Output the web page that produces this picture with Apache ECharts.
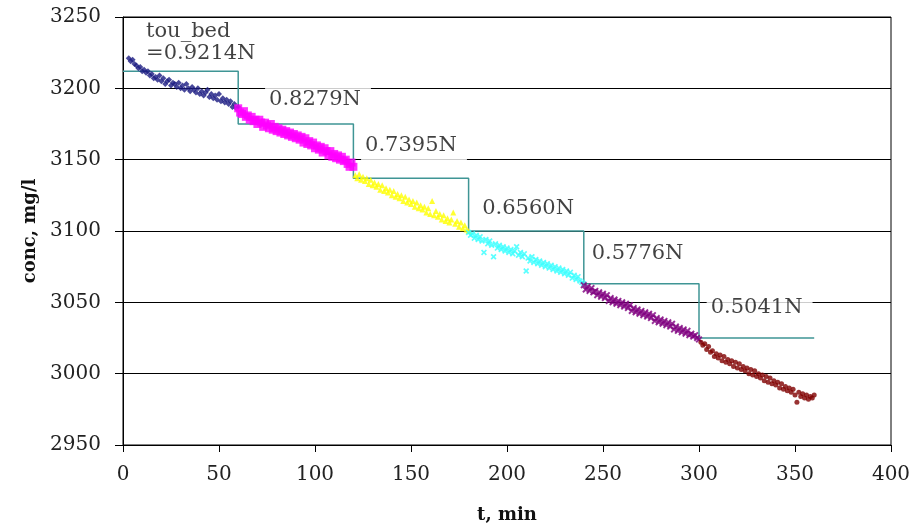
<!DOCTYPE html>
<html>
<head>
<meta charset="utf-8">
<script src="https://cdn.jsdelivr.net/npm/echarts@6/dist/echarts.min.js"></script>
<style>html,body{margin:0;padding:0;background:#fff;}#c{width:914px;height:529px;}</style>
</head>
<body>
<div id="c"></div>
<script>
// ---- data ----
var xTicksMin = 0, xTicksMax = 400, xTickStep = 50;
var yTicksMin = 2950, yTicksMax = 3250, yTickStep = 50;

var seg1 = [[3,3221],[4,3219],[5,3220],[6,3217],[7,3216],[8,3214],[9,3215],[10,3212],[11,3213],[12,3211],[13,3212],[14,3209],[15,3210],[16,3207],[17,3208],[18,3206],[19,3209],[20,3205],[21,3207],[22,3203],[23,3205],[24,3206],[25,3202],[26,3204],[27,3203],[28,3201],[29,3204],[30,3200],[31,3202],[32,3199],[33,3203],[34,3200],[35,3198],[36,3201],[37,3199],[38,3197],[39,3200],[40,3196],[41,3198],[42,3195],[43,3197],[44,3199],[45,3194],[46,3196],[47,3193],[48,3195],[49,3192],[50,3196],[51,3191],[52,3193],[53,3190],[54,3192],[55,3189],[56,3191],[57,3187],[58,3189],[59,3186],[60,3187]];
var seg2 = [[60,3186],[61,3183],[62,3182],[63,3184],[64,3180],[65,3181],[66,3178],[67,3180],[68,3177],[69,3178],[70,3175],[71,3178],[72,3176],[73,3173],[74,3176],[75,3174],[76,3172],[77,3175],[78,3171],[79,3173],[80,3170],[81,3172],[82,3169],[83,3171],[84,3168],[85,3170],[86,3167],[87,3169],[88,3166],[89,3168],[90,3165],[91,3167],[92,3164],[93,3166],[94,3162],[95,3165],[96,3161],[97,3163],[98,3160],[99,3162],[100,3158],[101,3160],[102,3157],[103,3159],[104,3155],[105,3158],[106,3156],[107,3153],[108,3156],[109,3152],[110,3154],[111,3151],[112,3153],[113,3150],[114,3152],[115,3149],[116,3150],[117,3147],[118,3145],[119,3148],[120,3145]];
var seg3 = [[121,3139],[122,3137],[123,3140],[124,3136],[125,3138],[126,3135],[127,3137],[128,3133],[129,3136],[130,3132],[131,3134],[132,3131],[133,3133],[134,3129],[135,3132],[136,3128],[137,3130],[138,3127],[139,3129],[140,3125],[141,3128],[142,3124],[143,3126],[144,3123],[145,3125],[146,3121],[147,3124],[148,3120],[149,3122],[150,3119],[151,3121],[152,3117],[153,3120],[154,3116],[155,3118],[156,3115],[157,3117],[158,3113],[159,3116],[160,3112],[161,3121],[162,3111],[163,3114],[164,3110],[165,3112],[166,3108],[167,3111],[168,3107],[169,3109],[170,3106],[171,3108],[172,3113],[173,3105],[174,3107],[175,3103],[176,3106],[177,3102],[178,3104],[179,3101],[180,3100]];
var seg4 = [[180,3099],[181,3097],[182,3098],[183,3095],[184,3097],[185,3094],[186,3096],[187,3093],[188,3085],[189,3094],[190,3091],[191,3093],[192,3090],[193,3082],[194,3091],[195,3088],[196,3090],[197,3087],[198,3089],[199,3086],[200,3088],[201,3085],[202,3087],[203,3084],[204,3086],[205,3089],[206,3083],[207,3085],[208,3082],[209,3084],[210,3072],[211,3081],[212,3079],[213,3082],[214,3078],[215,3080],[216,3077],[217,3079],[218,3076],[219,3078],[220,3075],[221,3077],[222,3074],[223,3076],[224,3073],[225,3075],[226,3072],[227,3074],[228,3071],[229,3073],[230,3070],[231,3072],[232,3069],[233,3071],[234,3067],[235,3069],[236,3066],[237,3068],[238,3065],[239,3064],[240,3063]];
var seg5 = [[240,3062],[241,3059],[242,3061],[243,3058],[244,3060],[245,3057],[246,3058],[247,3055],[248,3057],[249,3054],[250,3056],[251,3053],[252,3055],[253,3051],[254,3053],[255,3050],[256,3052],[257,3049],[258,3051],[259,3048],[260,3050],[261,3047],[262,3049],[263,3046],[264,3048],[265,3044],[266,3046],[267,3043],[268,3045],[269,3042],[270,3044],[271,3041],[272,3043],[273,3040],[274,3042],[275,3039],[276,3041],[277,3037],[278,3039],[279,3036],[280,3038],[281,3035],[282,3037],[283,3034],[284,3036],[285,3033],[286,3035],[287,3031],[288,3033],[289,3030],[290,3032],[291,3029],[292,3031],[293,3028],[294,3030],[295,3027],[296,3028],[297,3026],[298,3027],[299,3025],[300,3024]];
var seg6 = [[301,3022],[302,3020],[303,3021],[304,3017],[305,3019],[306,3015],[307,3016],[308,3012],[309,3014],[310,3011],[311,3013],[312,3009],[313,3012],[314,3008],[315,3010],[316,3007],[317,3009],[318,3005],[319,3008],[320,3004],[321,3007],[322,3003],[323,3005],[324,3002],[325,3004],[326,3000],[327,3003],[328,2999],[329,3002],[330,2998],[331,3000],[332,2997],[333,2999],[334,2995],[335,2998],[336,2994],[337,2997],[338,2993],[339,2995],[340,2992],[341,2994],[342,2990],[343,2993],[344,2989],[345,2991],[346,2988],[347,2990],[348,2987],[349,2989],[350,2985],[351,2980],[352,2987],[353,2984],[354,2986],[355,2983],[356,2985],[357,2982],[358,2984],[359,2983],[360,2985]];

// step line of bed shear stress levels
var stepX = [0,60,60,120,120,180,180,240,240,300,300,360];
var stepY = [3212,3212,3175,3175,3137,3137,3100,3100,3063,3063,3025,3025];

// annotation labels
var labelTexts = ['tou_bed\n=0.9214N','0.8279N','0.7395N','0.6560N','0.5776N','0.5041N'];
var labelX = [12,74,124,185,242,304];
var labelY = [3232,3192,3160,3116,3084,3046];

var xName = 't, min';
var yName = 'conc, mg/l';

// ---- chart ----
var chart = echarts.init(document.getElementById('c'), null, {renderer:'canvas'});
var serif = 'DejaVu Serif';
var xMark = 'path://M0 2L2 0L5 3L8 0L10 2L7 5L10 8L8 10L5 7L2 10L0 8L3 5Z';

function sc(data, color, symbol, size){
  return {type:'scatter', data:data, symbol:symbol, symbolSize:size,
    itemStyle:{color:color}, silent:true, z:3};
}
var stepData = stepX.map(function(x,i){return [x, stepY[i]];});
var labelData = labelX.map(function(x,i){
  var d = {value:[x,labelY[i]], name:labelTexts[i]};
  if (i === 0) d.label = {backgroundColor:'transparent', padding:[0,0,0,0]};
  return d;
});

chart.setOption({
  animation:false,
  backgroundColor:'#fff',
  grid:{left:123, right:23, top:17, bottom:83, show:true, borderColor:'#000', borderWidth:1},
  xAxis:{type:'value', min:xTicksMin, max:xTicksMax, interval:xTickStep,
    name:xName, nameLocation:'middle', nameGap:61,
    nameTextStyle:{fontFamily:serif, fontWeight:'bold', fontSize:18, color:'#111'},
    axisLine:{lineStyle:{color:'#000', width:1}},
    axisTick:{show:true, length:7, lineStyle:{color:'#000'}},
    axisLabel:{fontFamily:serif, fontSize:20, color:'#222', margin:20},
    splitLine:{show:false}},
  yAxis:{type:'value', min:yTicksMin, max:yTicksMax, interval:yTickStep,
    name:yName, nameLocation:'middle', nameGap:68, nameRotate:90,
    nameTextStyle:{fontFamily:serif, fontWeight:'bold', fontSize:18, color:'#111'},
    axisLine:{show:true, lineStyle:{color:'#000', width:1}},
    axisTick:{show:true, length:8, lineStyle:{color:'#000'}},
    axisLabel:{fontFamily:serif, fontSize:20, color:'#222', margin:22,
      formatter:function(v){return String(v);}},
    splitLine:{show:true, lineStyle:{color:'#000', width:1}}},
  series:[
    {type:'line', data:stepData, showSymbol:false, symbol:'none', silent:true,
      lineStyle:{color:'#3f9595', width:1.5}, z:2},
    sc(seg1,'#1c1c82','diamond',6),
    sc(seg2,'#ff00ff','rect',8),
    sc(seg3,'#ffff00','triangle',6),
    sc(seg4,'#33ffff',xMark,6),
    sc(seg5,'#800080',xMark,7),
    sc(seg6,'#800000','circle',5),
    {type:'scatter', data:labelData, symbolSize:0, silent:true, z:10,
      label:{show:true, position:'right', distance:0,
        formatter:function(p){return p.name;},
        fontFamily:serif, fontSize:21, color:'#111', lineHeight:22,
        backgroundColor:'#fff', padding:[7,10,8,4]}}
  ]
});
</script>
</body>
</html>
